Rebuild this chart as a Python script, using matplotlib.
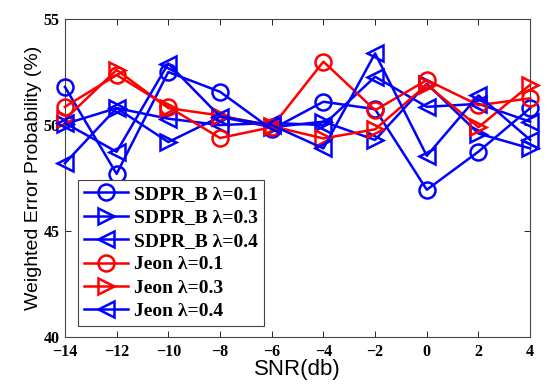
import numpy as np
import matplotlib
matplotlib.use('Agg')
import matplotlib.pyplot as plt

# --- data ---
snr = [-14, -12, -10, -8, -6, -4, -2, 0, 2, 4]

sdpr_01 = [51.8, 47.7, 52.5, 51.57, 49.8, 51.1, 50.75, 46.95, 48.75, 50.8]
sdpr_03 = [50.05, 50.8, 49.2, 50.39, 49.9, 50.16, 49.3, 51.95, 49.6, 48.9]
sdpr_04 = [48.2, 50.8, 50.3, 50.0, 50.1, 50.0, 52.28, 50.86, 51.0, 50.16]
jeon_01 = [50.86, 52.36, 50.86, 49.39, 49.9, 52.99, 50.7, 52.12, 50.94, 51.26]
jeon_03 = [50.27, 52.6, 50.8, 50.45, 49.95, 49.37, 49.8, 51.9, 49.9, 51.9]
jeon_04 = [50.1, 48.74, 52.9, 50.4, 50.0, 48.9, 53.38, 48.55, 51.4, 49.3]

labels = ['SDPR_B λ=0.1', 'SDPR_B λ=0.3', 'SDPR_B λ=0.4',
          'Jeon λ=0.1', 'Jeon λ=0.3', 'Jeon λ=0.4']

fig = plt.figure(figsize=(5.5, 3.88), dpi=100)
ax = fig.add_axes([0.118, 0.131, 0.846, 0.82])

series = [
    (sdpr_01, 'o', 'blue'),
    (sdpr_03, '>', 'blue'),
    (sdpr_04, '<', 'blue'),
    (jeon_01, 'o', 'red'),
    (jeon_03, '>', 'red'),
    (jeon_04, '<', 'blue'),
]
for (vals, mk, col), lab in zip(series, labels):
    ax.plot(snr, vals, marker=mk, color=col, linewidth=1.8, markersize=11.5,
            markerfacecolor='none', markeredgewidth=1.8, label=lab,
            clip_on=False, zorder=3)

ax.set_xlim(-14, 4)
ax.set_ylim(40, 55)
ax.set_xticks(snr)
ax.set_yticks([40, 45, 50, 55])
ax.set_xticklabels(['\u2212' + str(-v) if v < 0 else str(v) for v in snr])
ax.tick_params(direction='in', top=True, right=True, length=4, width=0.6,
               labelsize=11.5)
ax.tick_params(axis='x', pad=5)
ax.tick_params(axis='y', pad=4)
for lbl in ax.get_xticklabels() + ax.get_yticklabels():
    lbl.set_fontfamily('Liberation Serif')
    lbl.set_fontweight('bold')
for sp in ax.spines.values():
    sp.set_linewidth(0.8)
    sp.set_color('#444444')

ax.set_xlabel('SNR(db)', fontsize=16, family='Liberation Sans', labelpad=-1)
ax.set_ylabel('Weighted Error Probability (%)', fontsize=14,
              family='Liberation Sans', labelpad=1)

leg = ax.legend(loc='lower left', bbox_to_anchor=(0.028, 0.035),
                prop={'family': 'Liberation Serif', 'weight': 'bold', 'size': 14},
                fancybox=False, framealpha=1, edgecolor='#444444',
                handlelength=2.3, handletextpad=0.3, labelspacing=0.3,
                borderpad=0.3, borderaxespad=0)
leg.get_frame().set_linewidth(0.8)

fig.savefig('out.png', dpi=100)
